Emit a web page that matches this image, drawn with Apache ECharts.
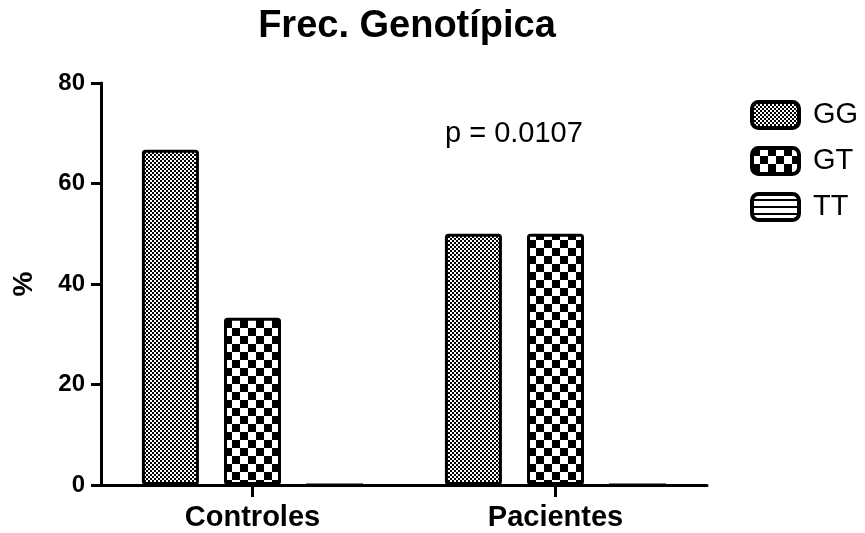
<!DOCTYPE html>
<html>
<head>
<meta charset="utf-8">
<script src="https://cdn.jsdelivr.net/npm/echarts@6/dist/echarts.min.js"></script>
<style>
html,body{margin:0;padding:0;background:#fff;}
#c{width:865px;height:533px;}
</style>
</head>
<body>
<div id="c"></div>
<script>
var categories = ['Controles', 'Pacientes'];
var seriesNames = ['GG', 'GT', 'TT'];
var ggValues = [66.7, 50.0];
var gtValues = [33.3, 50.0];
var ttValues = [0, 0];
var yTicks = [0, 20, 40, 60, 80];
var pText = 'p = 0.0107';

function makePattern(kind) {
  var cv = document.createElement('canvas');
  var ctx;
  if (kind === 'fine') {
    cv.width = 4; cv.height = 4;
    ctx = cv.getContext('2d');
    ctx.fillStyle = '#fff'; ctx.fillRect(0, 0, 4, 4);
    ctx.fillStyle = '#000';
    ctx.fillRect(0, 0, 2, 2); ctx.fillRect(2, 2, 2, 2);
  } else if (kind === 'coarse') {
    cv.width = 16; cv.height = 16;
    ctx = cv.getContext('2d');
    ctx.fillStyle = '#fff'; ctx.fillRect(0, 0, 16, 16);
    ctx.fillStyle = '#000';
    ctx.fillRect(0, 0, 8, 8); ctx.fillRect(8, 8, 8, 8);
  } else {
    cv.width = 7; cv.height = 7;
    ctx = cv.getContext('2d');
    ctx.fillStyle = '#fff'; ctx.fillRect(0, 0, 7, 7);
    ctx.fillStyle = '#000';
    ctx.fillRect(0, 5, 7, 2);
  }
  return { image: cv, repeat: 'repeat' };
}

var patterns = [makePattern('fine'), makePattern('coarse'), makePattern('stripes')];
var values = [ggValues, gtValues, ttValues];

var chart = echarts.init(document.getElementById('c'), null, { renderer: 'canvas' });

var series = seriesNames.map(function (name, i) {
  return {
    name: name,
    type: 'bar',
    data: values[i],
    barWidth: 57,
    barGap: '44%',
    itemStyle: {
      color: patterns[i],
      borderColor: '#000',
      borderWidth: 3,
      borderRadius: 2
    },
    emphasis: { disabled: true },
    animation: false
  };
});

chart.setOption({
  animation: false,
  title: [
    {
      text: 'Frec. Genotípica',
      left: 402, top: 3,
      textAlign: 'center',
      textStyle: { fontFamily: 'Liberation Sans', fontWeight: 'bold', fontSize: 38, color: '#000' }
    },
    {
      text: pText,
      left: 440, top: 114,
      textStyle: { fontFamily: 'Liberation Sans', fontWeight: 'normal', fontSize: 29, color: '#000' }
    }
  ],
  legend: {
    orient: 'vertical',
    left: 745, top: 95,
    data: seriesNames,
    icon: 'roundRect',
    itemWidth: 47,
    itemHeight: 26,
    itemGap: 16,
    selectedMode: false,
    itemStyle: { borderColor: '#000', borderWidth: 4 },
    textStyle: { fontFamily: 'Liberation Sans', fontSize: 29, color: '#000', lineHeight: 27, padding: [0, 0, 0, 9] }
  },
  grid: { left: 101, top: 83, right: 158, bottom: 48, containLabel: false },
  xAxis: {
    type: 'category',
    data: categories,
    axisLine: { show: true, lineStyle: { color: '#000', width: 3 } },
    axisTick: { show: true, alignWithLabel: true, length: 12, lineStyle: { color: '#000', width: 3 } },
    axisLabel: { margin: 18, color: '#000', fontFamily: 'Liberation Sans', fontWeight: 'bold', fontSize: 29 },
    splitLine: { show: false }
  },
  yAxis: {
    type: 'value',
    min: yTicks[0], max: yTicks[yTicks.length - 1], interval: yTicks[1] - yTicks[0],
    name: '%',
    nameLocation: 'middle',
    nameRotate: 90,
    nameGap: 63,
    nameTextStyle: { fontFamily: 'Liberation Sans', fontWeight: 'bold', fontSize: 28, color: '#000' },
    axisLine: { show: true, lineStyle: { color: '#000', width: 3 } },
    axisTick: { show: true, length: 10, lineStyle: { color: '#000', width: 3 } },
    axisLabel: { margin: 16, color: '#000', fontFamily: 'Liberation Sans', fontWeight: 'bold', fontSize: 24 },
    splitLine: { show: false }
  },
  series: series
});
</script>
</body>
</html>
